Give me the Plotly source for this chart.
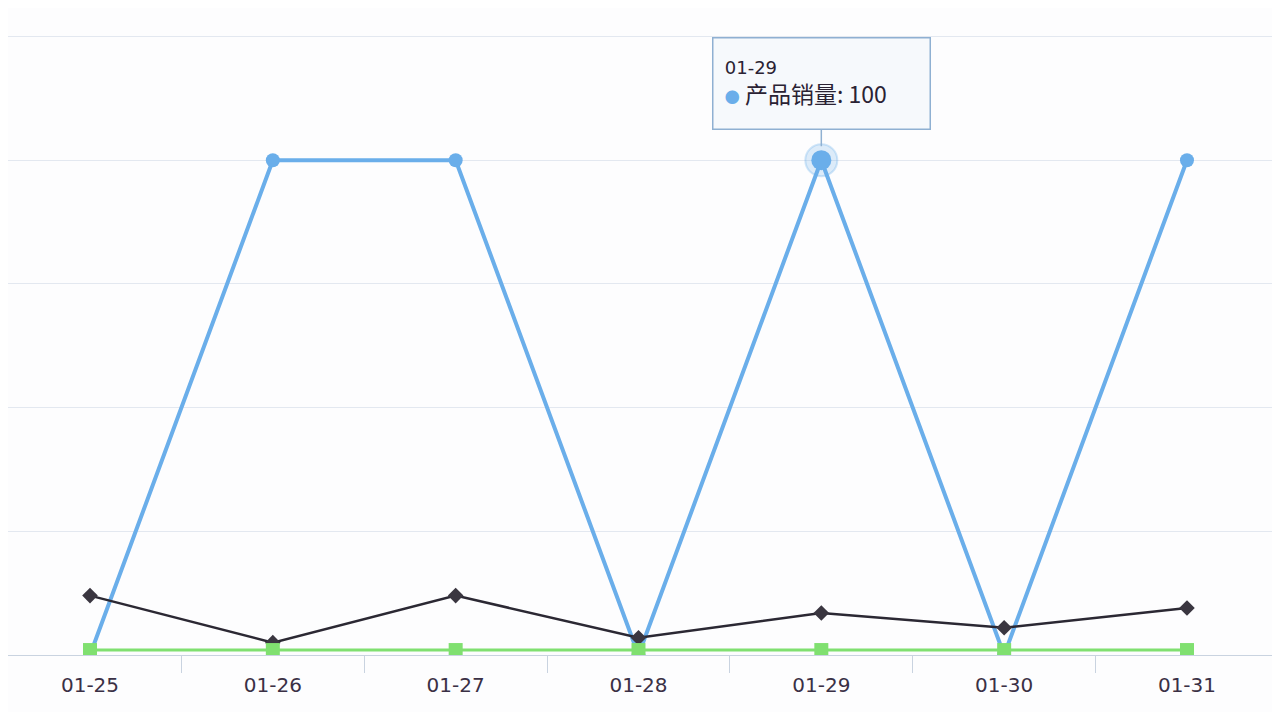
import plotly.graph_objects as go

# 数据
dates = ['01-25', '01-26', '01-27', '01-28', '01-29', '01-30', '01-31']
sales = [0, 100, 100, 0, 100, 0, 100]        # 产品销量
orders = [12, 2.5, 12, 3.5, 8.5, 5.5, 9.5]   # 黑线
refunds = [1, 1, 1, 1, 1, 1, 1]              # 绿线
y_ticks = [0, 25, 50, 75, 100, 125]

blue = '#6aaeea'
hi = 4  # 提示框所在的点

fig = go.Figure()
fig.add_trace(go.Scatter(
    x=dates, y=sales, name='产品销量', mode='lines+markers',
    line=dict(color=blue, width=4),
    marker=dict(size=14, color=blue)
))
fig.add_trace(go.Scatter(
    x=dates, y=orders, name='订单', mode='lines+markers',
    line=dict(color='#2b2833', width=2.5),
    marker=dict(symbol='diamond', size=12, color='#3a3640')
))
fig.add_trace(go.Scatter(
    x=dates, y=refunds, name='退款', mode='lines+markers',
    line=dict(color='#80e070', width=3),
    marker=dict(symbol='square', size=14, color='#80e070')
))
# 高亮点
fig.add_trace(go.Scatter(
    x=[dates[hi]], y=[sales[hi]], mode='markers', hoverinfo='skip',
    marker=dict(size=32, color='rgba(106,174,234,0.22)',
                line=dict(color='rgba(106,174,234,0.3)', width=2))
))
fig.add_trace(go.Scatter(
    x=[dates[hi]], y=[sales[hi]], mode='markers', hoverinfo='skip',
    marker=dict(size=20, color=blue)
))

pad = '<span style="font-size:10px">&nbsp;</span>'
fig.add_annotation(
    x=dates[hi], y=sales[hi],
    text=(pad + '<span style="font-size:18px;font-family:DejaVu Sans">%s</span><br>' + pad +
          '<span style="color:%s;font-size:15px">●</span> 产品销量:&nbsp;100') % (dates[hi], blue),
    showarrow=True, arrowhead=0, arrowwidth=1.5, arrowcolor='#8fb0d2',
    ax=0, ay=-77, standoff=14,
    width=198, height=72, align='left', valign='middle',
    bgcolor='rgba(246,249,252,0.97)', bordercolor='#8fb0d2', borderwidth=1.5,
    borderpad=9,
    font=dict(family='Noto Sans CJK SC', size=23, color='#2a2233')
)

fig.update_layout(
    width=1264, height=704,
    margin=dict(l=0, r=0, t=27, b=57),
    paper_bgcolor='#fdfdfe', plot_bgcolor='#fdfdfe',
    showlegend=False,
    font=dict(family='DejaVu Sans', color='#3a3045'),
    xaxis=dict(
        type='category', range=[-0.4485, 6.465],
        showgrid=False, zeroline=False,
        showline=True, linecolor='#c9d3e0', linewidth=1,
        ticks='outside', ticklen=17, tickcolor='#c9d3e0', tickson='boundaries',
        ticklabelstandoff=12,
        tickfont=dict(family='DejaVu Sans', size=20, color='#3a3045'),
    ),
    yaxis=dict(
        range=[0, 125.3], tickvals=y_ticks, showticklabels=False,
        showgrid=True, gridcolor='#e3e8f0', gridwidth=1, zeroline=False,
    ),
)

fig.write_html("out.html")
